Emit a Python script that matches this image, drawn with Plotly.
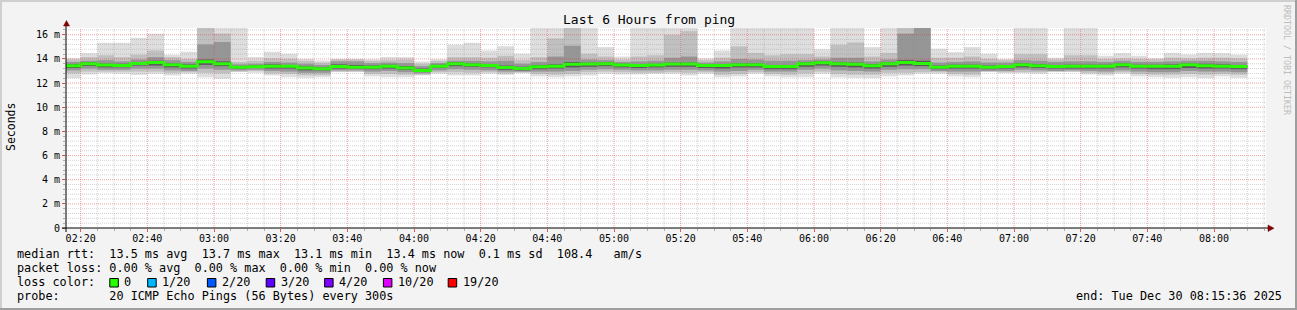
import pandas as pd
import plotly.graph_objects as go

# ---------------- data (milliseconds) ----------------
median_ms = [13.44, 13.60, 13.49, 13.46, 13.63, 13.71, 13.52, 13.40, 13.77, 13.60,
             13.32, 13.35, 13.40, 13.40, 13.24, 13.19, 13.38, 13.32, 13.32, 13.40,
             13.24, 13.05, 13.40, 13.60, 13.52, 13.46, 13.29, 13.21, 13.35, 13.40,
             13.55, 13.57, 13.60, 13.49, 13.46, 13.49, 13.57, 13.57, 13.46, 13.46,
             13.52, 13.52, 13.38, 13.38, 13.60, 13.68, 13.60, 13.55, 13.44, 13.60,
             13.71, 13.63, 13.32, 13.40, 13.40, 13.32, 13.38, 13.52, 13.44, 13.38,
             13.40, 13.40, 13.40, 13.52, 13.40, 13.40, 13.40, 13.52, 13.44, 13.40,
             13.38]
max_ms = [14.07, 14.48, 15.34, 15.34, 15.75, 16.09, 14.34, 14.60, 16.70, 16.70,
          16.70, 14.15, 14.60, 14.43, 14.00, 13.87, 14.00, 14.00, 13.96, 14.15,
          14.15, 13.79, 13.96, 15.17, 15.34, 14.70, 15.06, 14.43, 16.70, 16.70,
          16.70, 16.70, 14.98, 14.20, 16.70, 16.70, 16.70, 16.70, 14.05, 14.70,
          16.70, 16.70, 16.70, 16.70, 16.70, 14.80, 16.70, 16.70, 14.98, 16.70,
          16.70, 16.70, 14.84, 14.56, 14.98, 14.43, 14.00, 16.70, 16.70, 14.10,
          16.70, 16.70, 14.26, 14.48, 14.26, 14.07, 14.50, 14.37, 14.50, 14.48,
          14.35]
upper2_ms = [13.95, 14.15, 14.30, 14.15, 14.35, 14.70, 14.15, 14.00, 16.70, 16.10,
             13.75, 13.85, 14.05, 14.00, 13.85, 13.70, 13.95, 13.95, 13.85, 13.90,
             13.95, 13.60, 13.85, 14.15, 14.15, 14.10, 14.26, 13.90, 14.15, 15.70,
             16.70, 14.43, 14.20, 13.95, 14.20, 14.30, 16.00, 16.30, 13.90, 14.10,
             15.04, 14.50, 14.30, 14.40, 14.40, 14.20, 15.17, 15.37, 14.20, 14.50,
             16.70, 16.70, 14.10, 14.10, 14.20, 14.00, 13.90, 14.40, 14.40, 13.95,
             14.30, 14.30, 14.00, 14.05, 14.00, 13.95, 14.10, 14.05, 14.10, 14.10,
             14.05]
upper3_ms = [13.75, 13.85, 13.90, 13.80, 13.95, 14.15, 13.90, 13.75, 15.20, 15.40,
             13.55, 13.60, 13.75, 13.70, 13.60, 13.50, 13.80, 13.80, 13.65, 13.70,
             13.65, 13.40, 13.65, 13.85, 13.85, 13.80, 13.85, 13.60, 13.75, 14.20,
             15.09, 13.95, 13.90, 13.75, 13.80, 13.85, 14.10, 14.20, 13.70, 13.80,
             14.00, 13.95, 13.85, 13.85, 13.90, 13.95, 14.10, 14.10, 13.80, 13.95,
             16.10, 16.70, 13.70, 13.75, 13.80, 13.70, 13.70, 13.90, 13.85, 13.75,
             13.80, 13.80, 13.75, 13.85, 13.75, 13.75, 13.80, 13.85, 13.85, 13.80,
             13.75]
upper4_ms = [13.58, 13.72, 13.62, 13.60, 13.75, 13.85, 13.65, 13.55, 13.95, 13.80,
             13.42, 13.45, 13.55, 13.50, 13.38, 13.30, 13.55, 13.50, 13.45, 13.52,
             13.40, 13.20, 13.52, 13.72, 13.65, 13.58, 13.45, 13.35, 13.50, 13.55,
             13.75, 13.70, 13.72, 13.60, 13.58, 13.60, 13.70, 13.70, 13.58, 13.58,
             13.65, 13.65, 13.50, 13.50, 13.72, 13.80, 13.75, 13.70, 13.58, 13.72,
             13.90, 13.85, 13.45, 13.52, 13.52, 13.45, 13.50, 13.65, 13.58, 13.50,
             13.52, 13.52, 13.52, 13.65, 13.52, 13.52, 13.55, 13.65, 13.60, 13.55,
             13.50]
lower4_ms = [13.25, 13.42, 13.30, 13.30, 13.45, 13.45, 13.30, 13.20, 13.50, 13.40,
             13.20, 13.25, 13.20, 13.20, 13.05, 13.05, 13.20, 13.20, 13.15, 13.20,
             13.10, 12.95, 13.25, 13.40, 13.35, 13.30, 13.10, 13.05, 13.15, 13.20,
             13.30, 13.35, 13.40, 13.30, 13.25, 13.30, 13.35, 13.35, 13.25, 13.20,
             13.30, 13.30, 13.15, 13.15, 13.35, 13.45, 13.35, 13.30, 13.20, 13.35,
             13.45, 13.40, 13.15, 13.20, 13.20, 13.15, 13.20, 13.30, 13.25, 13.20,
             13.20, 13.20, 13.20, 13.30, 13.20, 13.15, 13.15, 13.25, 13.20, 13.20,
             13.15]
lower3_ms = [13.05, 13.20, 13.10, 13.10, 13.20, 13.20, 13.05, 13.00, 13.20, 13.10,
             13.05, 13.10, 13.00, 12.95, 12.85, 12.85, 13.05, 13.05, 12.95, 13.00,
             12.90, 12.80, 13.05, 13.15, 13.10, 13.05, 12.95, 12.95, 12.95, 12.95,
             13.00, 13.10, 13.15, 13.10, 13.05, 13.05, 13.10, 13.10, 13.05, 12.95,
             13.00, 13.10, 12.95, 12.95, 13.10, 13.20, 13.05, 13.00, 12.95, 13.10,
             13.15, 13.15, 13.00, 12.95, 12.95, 13.00, 13.00, 13.10, 13.05, 13.00,
             13.05, 13.00, 12.95, 13.05, 12.95, 12.90, 12.90, 13.00, 12.95, 12.95,
             12.90]
lower2_ms = [12.80, 12.95, 12.95, 12.95, 12.95, 12.95, 12.85, 12.90, 12.85, 12.80,
             12.95, 13.00, 12.80, 12.75, 12.65, 12.65, 12.95, 12.95, 12.75, 12.75,
             12.70, 12.70, 12.90, 12.90, 12.85, 12.90, 12.80, 12.88, 12.75, 12.70,
             12.75, 12.90, 12.95, 12.90, 12.85, 12.85, 12.90, 12.85, 12.90, 12.70,
             12.75, 12.90, 12.75, 12.70, 12.80, 12.95, 12.75, 12.70, 12.70, 12.85,
             12.85, 12.90, 12.90, 12.75, 12.70, 12.95, 12.90, 12.90, 12.90, 12.95,
             12.95, 12.85, 12.80, 12.90, 12.75, 12.70, 12.70, 12.75, 12.70, 12.75,
             12.70]
min_ms = [12.41, 12.71, 12.82, 12.77, 12.68, 12.77, 12.63, 12.77, 12.49, 12.36,
          12.91, 12.85, 12.63, 12.49, 12.44, 12.49, 12.91, 12.91, 12.55, 12.49,
          12.49, 12.63, 12.77, 12.63, 12.63, 12.77, 12.68, 12.82, 12.55, 12.49,
          12.55, 12.63, 12.77, 12.71, 12.71, 12.77, 12.77, 12.63, 12.77, 12.49,
          12.55, 12.77, 12.55, 12.49, 12.49, 12.77, 12.49, 12.44, 12.41, 12.55,
          12.63, 12.77, 12.77, 12.55, 12.49, 12.91, 12.82, 12.82, 12.77, 12.91,
          12.91, 12.71, 12.63, 12.77, 12.55, 12.49, 12.44, 12.49, 12.41, 12.55,
          12.44]

y_tick_vals = [0, 2, 4, 6, 8, 10, 12, 14, 16]
y_tick_text = ["0", "2 m", "4 m", "6 m", "8 m", "10 m", "12 m", "14 m", "16 m"]

legend_lines = [
    "median rtt:  13.5 ms avg  13.7 ms max  13.1 ms min  13.4 ms now  0.1 ms sd  108.4   am/s",
    "packet loss: 0.00 % avg  0.00 % max  0.00 % min  0.00 % now",
]
loss_labels = ["0", "1/20", "2/20", "3/20", "4/20", "10/20", "19/20"]
loss_colors = ["#26ff00", "#00b8ff", "#0059ff", "#5e00ff", "#7e00ff", "#dd00ff", "#ff0000"]
probe_text = "probe:       20 ICMP Echo Pings (56 Bytes) every 300s"
end_text = "end: Tue Dec 30 08:15:36 2025"
title_text = "Last 6 Hours from ping"

# ---------------- geometry ----------------
FW, FH = 1297, 310
L, T, PW, PH = 66, 28, 1200, 200
R, B = FW - L - PW, FH - T - PH
Y_MAX = 16.56
X0 = pd.Timestamp("2025-12-30 02:15:36")
X1 = pd.Timestamp("2025-12-30 08:15:36")
STEP = pd.Timedelta(minutes=5)
bar_start = pd.date_range("2025-12-30 02:15:00", periods=len(median_ms), freq="5min")

MONO = "DejaVu Sans Mono"


def fx(p):
    return (p - L) / PW


def fy(p):
    return (T + PH - p) / PH


fig = go.Figure()

layers = [
    (min_ms, max_ms, "#dedede"),
    (lower2_ms, upper2_ms, "#c0c0c0"),
    (lower3_ms, upper3_ms, "#969696"),
    (lower4_ms, upper4_ms, "#5a5a5a"),
]
for lo, hi, col in layers:
    fig.add_trace(go.Bar(
        x=bar_start, base=lo, y=[h - l for h, l in zip(hi, lo)],
        width=STEP.total_seconds() * 1000, offset=0,
        marker=dict(color=col, line=dict(width=0)),
        hoverinfo="skip", showlegend=False,
    ))

fig.add_trace(go.Scatter(
    x=list(bar_start) + [bar_start[-1] + STEP], y=median_ms + [median_ms[-1]],
    mode="lines", line=dict(color="#26ff00", width=3, shape="hv"),
    hoverinfo="skip", showlegend=False,
))

shapes = []
minor_col = "rgba(143,143,143,0.4)"
major_col = "rgba(222,48,48,0.45)"
# vertical grid
t = pd.Timestamp("2025-12-30 02:20:00")
while t < X1:
    major = (t.minute % 20 == 0)
    shapes.append(dict(type="line", xref="x", yref="paper", x0=t, x1=t, y0=0, y1=1,
                       line=dict(color=major_col if major else minor_col, width=1, dash="1px,1px"),
                       layer="above"))
    t += STEP
# horizontal grid
for i in range(1, int(Y_MAX / 0.4) + 1):
    v = round(i * 0.4, 2)
    major = abs(v / 2 - round(v / 2)) < 1e-6
    shapes.append(dict(type="line", xref="paper", yref="y", x0=0, x1=1, y0=v, y1=v,
                       line=dict(color=major_col if major else minor_col, width=1, dash="1px,1px"),
                       layer="above"))
# axes lines
shapes.append(dict(type="line", xref="paper", yref="paper", x0=fx(62), x1=fx(1268), y0=fy(228), y1=fy(228),
                   line=dict(color="black", width=1), layer="above"))
shapes.append(dict(type="line", xref="paper", yref="paper", x0=fx(66), x1=fx(66), y0=fy(232), y1=fy(24),
                   line=dict(color="black", width=1), layer="above"))
# arrows
shapes.append(dict(type="path", xref="paper", yref="paper",
                   path=f"M{fx(63.5)},{fy(26)} L{fx(69.5)},{fy(26)} L{fx(66.5)},{fy(20.5)} Z",
                   fillcolor="#7f0000", line=dict(color="#7f0000", width=0.5), layer="above"))
shapes.append(dict(type="path", xref="paper", yref="paper",
                   path=f"M{fx(1268)},{fy(225)} L{fx(1268)},{fy(231.5)} L{fx(1274)},{fy(228.2)} Z",
                   fillcolor="#7f0000", line=dict(color="#7f0000", width=0.5), layer="above"))
# outer frame
shapes += [
    dict(type="rect", xref="paper", yref="paper", x0=fx(0), x1=fx(FW), y0=fy(0), y1=fy(2),
         fillcolor="#cfcfcf", line=dict(width=0), layer="above"),
    dict(type="rect", xref="paper", yref="paper", x0=fx(0), x1=fx(2), y0=fy(0), y1=fy(FH),
         fillcolor="#cfcfcf", line=dict(width=0), layer="above"),
    dict(type="rect", xref="paper", yref="paper", x0=fx(0), x1=fx(FW), y0=fy(FH - 2), y1=fy(FH),
         fillcolor="#9e9e9e", line=dict(width=0), layer="above"),
    dict(type="rect", xref="paper", yref="paper", x0=fx(FW - 2), x1=fx(FW), y0=fy(0), y1=fy(FH),
         fillcolor="#9e9e9e", line=dict(width=0), layer="above"),
]

annotations = []


def txt(x, y, s, size=11.8, xanchor="left", color="black", angle=0):
    annotations.append(dict(x=fx(x), y=fy(y), xref="paper", yref="paper", text=s.replace(" ", "\u00a0"),
                            showarrow=False, xanchor=xanchor, yanchor="middle", textangle=angle,
                            font=dict(family=MONO, size=size, color=color), borderpad=0))


txt(648.5, 19, title_text, size=13, xanchor="center")
txt(11, 127, "Seconds", size=11.5, xanchor="center", angle=-90)
txt(1287, 60, "RRDTOOL / TOBI OETIKER", size=8.3, xanchor="center", color="#bdbdbd", angle=90)
rows_y = [254, 268, 282, 296]
txt(16, rows_y[0], legend_lines[0])
txt(16, rows_y[1], legend_lines[1])
txt(16, rows_y[2], "loss color:")
txt(16, rows_y[3], probe_text)
txt(1283, rows_y[3], end_text, xanchor="right")

box_x = [109.8, 147.7, 207.4, 266.2, 324.6, 383.4, 448.2]
for bx, lab, col in zip(box_x, loss_labels, loss_colors):
    shapes.append(dict(type="rect", xref="paper", yref="paper", x0=fx(bx), x1=fx(bx + 8.5),
                       y0=fy(278.5), y1=fy(287), fillcolor=col, line=dict(color="black", width=1),
                       layer="above"))
    txt(bx + 13.5, rows_y[2], lab)

fig.update_layout(
    width=FW, height=FH, autosize=False,
    margin=dict(l=L, r=R, t=T, b=B, pad=0),
    paper_bgcolor="#f3f3f3", plot_bgcolor="#ffffff",
    barmode="overlay", showlegend=False,
    shapes=shapes, annotations=annotations,
    xaxis=dict(
        type="date", range=[X0, X1], showgrid=False, zeroline=False, showline=False,
        tickformat="%H:%M", dtick=20 * 60 * 1000, tick0="2025-12-30 02:20:00",
        ticks="outside", ticklen=3, tickcolor="rgba(222,48,48,0.8)", tickwidth=1,
        ticklabelstandoff=-2,
        tickfont=dict(family=MONO, size=10, color="black"),
        minor=dict(ticks="outside", ticklen=2, dtick=5 * 60 * 1000, tick0="2025-12-30 02:20:00",
                   tickcolor="rgba(143,143,143,0.7)", showgrid=False),
        fixedrange=True,
    ),
    yaxis=dict(
        range=[0, Y_MAX], showgrid=False, zeroline=False, showline=False,
        tickvals=y_tick_vals, ticktext=y_tick_text,
        ticks="outside", ticklen=3, tickcolor="rgba(222,48,48,0.8)", tickwidth=1,
        tickfont=dict(family=MONO, size=10, color="black"),
        minor=dict(ticks="outside", ticklen=2, dtick=0.4, tick0=0,
                   tickcolor="rgba(143,143,143,0.7)", showgrid=False),
        fixedrange=True,
    ),
)

fig.write_html("out.html")
